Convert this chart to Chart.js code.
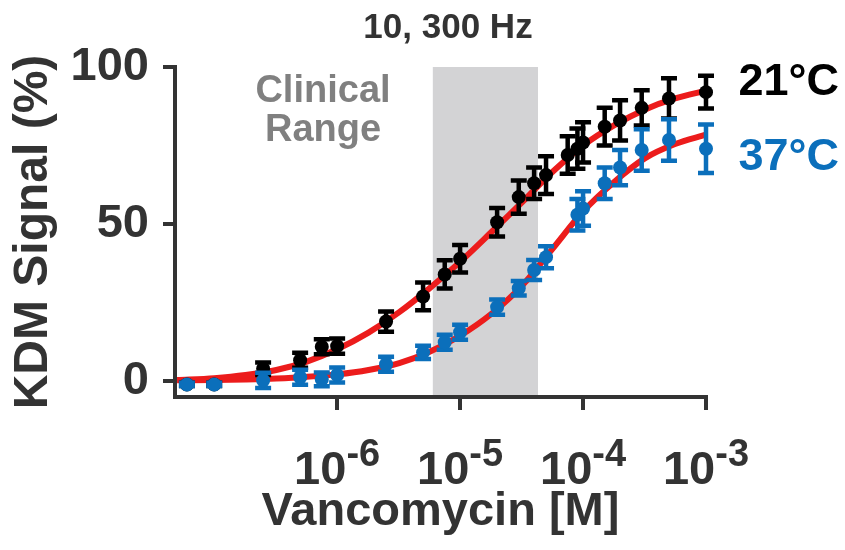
<!DOCTYPE html>
<html><head><meta charset="utf-8">
<script src="https://cdn.jsdelivr.net/npm/chart.js@4.4.1/dist/chart.umd.min.js"></script>
<style>html,body{margin:0;padding:0;background:#fff;overflow:hidden;}</style>
</head><body>
<canvas id="c" width="845" height="550"></canvas>
<script>
// ---- data ----
const concentrations = [6e-8, 1e-7, 2.5e-7, 5e-7, 7.5e-7, 1e-6, 2.5e-6, 5e-6, 7.5e-6, 1e-5, 2e-5, 3e-5, 4e-5, 5e-5, 7.5e-5, 9e-5, 1e-4, 1.5e-4, 2e-4, 3e-4, 5e-4, 1e-3];
const signal21 = [-1, -1, 4, 6.7, 11, 11.2, 19, 27, 34, 39, 50.6, 58.6, 63, 65.6, 72, 74, 76, 81, 83, 87, 90, 92];
const err21    = [0.5, 0.5, 2, 2.4, 2.4, 2.4, 3.2, 4.4, 4.5, 4.4, 4.5, 5.3, 5, 6, 6, 6.4, 6.4, 6, 6.4, 5.6, 6.4, 5.2];
const signal37 = [-1, -1, 0.3, 1.3, 0.6, 2, 5.4, 9.2, 12.4, 15.6, 23.6, 29.6, 35.4, 39.5, null, 53, 55, 63, 68, 73.6, 76.8, 74];
const err37    = [0.5, 0.5, 2.4, 2.4, 2.2, 2.4, 2.4, 2.1, 2.4, 2.4, 2.4, 2.3, 3.2, 3.5, null, 5, 5.5, 5, 5.6, 6.6, 6.6, 7.7];
const fitX  = [5e-8, 1e-7, 1.8e-7, 3.2e-7, 5.6e-7, 1e-6, 1.8e-6, 3.2e-6, 5.6e-6, 1e-5, 1.8e-5, 3.2e-5, 5.6e-5, 1e-4, 1.8e-4, 3.2e-4, 5.6e-4, 1e-3];
const fit21 = [0.4, 1.0, 2.0, 3.6, 6.2, 10.2, 15.5, 22, 29.5, 38, 47.5, 57, 66.5, 75, 81.5, 86.5, 90, 92.5];
const fit37 = [0.3, 0.4, 0.6, 0.9, 1.4, 2.2, 3.6, 5.8, 9.3, 14.5, 21.5, 30.5, 42, 54, 63.5, 71, 75.5, 78.5];
const clinicalRange = [6e-6, 4.3e-5];
const xTickValues = [1e-6, 1e-5, 1e-4, 1e-3];
const xTickExponents = ['-6', '-5', '-4', '-3'];
const yTickValues = [0, 50, 100];

const FONT = '"Liberation Sans", Arial, Helvetica, sans-serif';
const BLUE = '#0b6fbb', BLACK = '#000000', RED = '#ec1c1c', AXIS = '#333333';

function points(xs, ys, es) {
  return xs.map((x, i) => ({x: x, y: ys[i], e: es ? es[i] : null})).filter(p => p.y !== null);
}

const decorations = {
  id: 'decorations',
  beforeDatasetsDraw(chart) {
    const {ctx, chartArea, scales: {x, y}} = chart;
    const x0 = x.getPixelForValue(clinicalRange[0]);
    const x1 = x.getPixelForValue(clinicalRange[1]);
    const yt = y.getPixelForValue(100);
    ctx.save();
    ctx.fillStyle = '#d3d3d5';
    ctx.fillRect(x0, yt, x1 - x0, chartArea.bottom - 2 - yt);
    ctx.restore();
  },
  beforeDatasetDraw(chart, args) {
    const ds = chart.data.datasets[args.index];
    if (!ds.errorBars) return;
    const {ctx, scales: {x, y}} = chart;
    ctx.save();
    ctx.strokeStyle = ds.borderColor;
    ctx.lineWidth = 4.5;
    ctx.lineCap = 'butt';
    ds.data.forEach(p => {
      if (p.e == null) return;
      const px = x.getPixelForValue(p.x);
      const yTop = y.getPixelForValue(p.y + p.e);
      const yBot = y.getPixelForValue(p.y - p.e);
      ctx.beginPath();
      ctx.moveTo(px, yTop); ctx.lineTo(px, yBot);
      ctx.moveTo(px - 8, yTop); ctx.lineTo(px + 8, yTop);
      ctx.moveTo(px - 8, yBot); ctx.lineTo(px + 8, yBot);
      ctx.stroke();
    });
    ctx.restore();
  },
  afterDraw(chart) {
    const {ctx, scales: {x}} = chart;
    ctx.save();
    ctx.textBaseline = 'alphabetic';
    ctx.textAlign = 'left';
    ctx.fillStyle = AXIS;
    xTickValues.forEach((v, i) => {
      const px = x.getPixelForValue(v);
      ctx.font = 'bold 47px ' + FONT;
      const wb = ctx.measureText('10').width;
      ctx.font = 'bold 38px ' + FONT;
      const we = ctx.measureText(xTickExponents[i]).width;
      const sx = px - (wb + we) / 2;
      ctx.font = 'bold 47px ' + FONT;
      ctx.fillText('10', sx, 484);
      ctx.font = 'bold 38px ' + FONT;
      ctx.fillText(xTickExponents[i], sx + wb, 466);
    });
    ctx.textAlign = 'center';
    ctx.fillStyle = '#333333';
    ctx.font = 'bold 35px ' + FONT;
    ctx.fillText('10, 300 Hz', 448, 38);
    ctx.fillStyle = '#808080';
    ctx.font = 'bold 38px ' + FONT;
    ctx.fillText('Clinical', 323, 102);
    ctx.fillText('Range', 323, 141);
    ctx.textAlign = 'right';
    ctx.font = 'bold 45px ' + FONT;
    ctx.fillStyle = BLACK;
    ctx.fillText('21°C', 839, 95);
    ctx.fillStyle = BLUE;
    ctx.fillText('37°C', 839, 170);
    ctx.restore();
  }
};

new Chart(document.getElementById('c'), {
  type: 'scatter',
  data: {
    datasets: [
      {label: '37°C', data: points(concentrations, signal37, err37), errorBars: true,
       backgroundColor: BLUE, borderColor: BLUE, pointRadius: 7, pointBorderWidth: 0, order: 0, clip: false},
      {label: '21°C', data: points(concentrations, signal21, err21), errorBars: true,
       backgroundColor: BLACK, borderColor: BLACK, pointRadius: 7, pointBorderWidth: 0, order: 1, clip: false},
      {type: 'line', label: 'fit 21°C', data: points(fitX, fit21), borderColor: RED, borderWidth: 6,
       pointRadius: 0, fill: false, cubicInterpolationMode: 'monotone', order: 2, clip: false},
      {type: 'line', label: 'fit 37°C', data: points(fitX, fit37), borderColor: RED, borderWidth: 6,
       pointRadius: 0, fill: false, cubicInterpolationMode: 'monotone', order: 3, clip: false}
    ]
  },
  options: {
    responsive: false, animation: false, devicePixelRatio: 1,
    layout: {padding: {left: 0, right: 139, top: 67, bottom: 0}},
    plugins: {legend: {display: false}, tooltip: {enabled: false}, title: {display: false}},
    scales: {
      x: {
        type: 'logarithmic', position: 'bottom', min: 4.8e-8, max: 1e-3,
        afterBuildTicks(s) { s.ticks = xTickValues.map(v => ({value: v})); },
        afterFit(s) { s.height = 153; },
        ticks: {display: false, autoSkip: false},
        grid: {drawOnChartArea: false, drawTicks: true, tickLength: 13, tickWidth: 4, tickColor: AXIS, lineWidth: 4, color: AXIS},
        border: {display: true, color: AXIS, width: 4},
        title: {display: true, text: 'Vancomycin [M]', color: AXIS, font: {family: FONT, size: 47, weight: 'bold'}, padding: {top: 0, bottom: 10}}
      },
      y: {
        min: -5, max: 100,
        afterBuildTicks(s) { s.ticks = yTickValues.map(v => ({value: v})); },
        afterFit(s) { s.width = 175; },
        ticks: {color: AXIS, font: {family: FONT, size: 47, weight: 'bold'}, padding: 14, autoSkip: false},
        grid: {drawOnChartArea: false, drawTicks: true, tickLength: 12, tickWidth: 4, tickColor: AXIS, lineWidth: 4, color: AXIS},
        border: {display: true, color: AXIS, width: 4},
        title: {display: true, text: 'KDM Signal (%)', color: AXIS, font: {family: FONT, size: 48, weight: 'bold'}, padding: {top: 5, bottom: 0}}
      }
    }
  },
  plugins: [decorations]
});
</script>
</body></html>
